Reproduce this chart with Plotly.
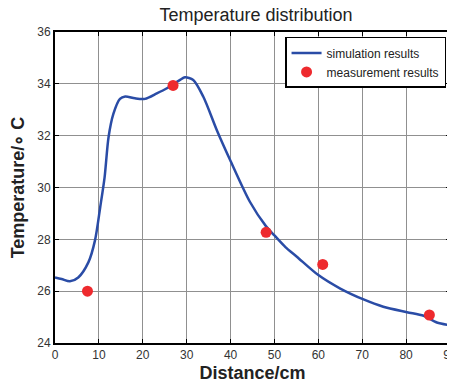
import plotly.graph_objects as go

sim_x = [0, 1.5, 3.4, 5.3, 7.6, 9.1, 10.3, 11.3, 12.2, 13.3, 14.8, 16.0, 18.2, 20.5,
         23.2, 25.5, 28.5, 29.6, 31.5, 33.8, 36.9, 39.9, 44.4, 48.1, 50, 52.5, 55.1, 60,
         65, 70.3, 74.8, 80.2, 84, 87, 90]
sim_y = [26.53, 26.47, 26.38, 26.53, 27.11, 27.95, 29.24, 30.39, 31.94, 32.84, 33.42,
         33.51, 33.44, 33.42, 33.63, 33.83, 34.15, 34.25, 34.15, 33.5, 32.2, 31.06,
         29.45, 28.5, 28.15, 27.7, 27.33, 26.62, 26.1, 25.68, 25.4, 25.19, 25.05, 24.79, 24.69]

meas_x = [7.4, 26.9, 48.1, 61.0, 85.3]
meas_y = [26.0, 33.94, 28.27, 27.03, 25.08]

x_ticks = [0, 10, 20, 30, 40, 50, 60, 70, 80, 90]
y_ticks = [24, 26, 28, 30, 32, 34, 36]

fig = go.Figure()
fig.add_trace(go.Scatter(
    x=sim_x, y=sim_y, mode="lines", name="simulation results",
    line=dict(color="#2a4ca6", width=2.5, shape="spline", smoothing=0.8),
))
fig.add_trace(go.Scatter(
    x=meas_x, y=meas_y, mode="markers", name="measurement results",
    marker=dict(color="#ee2a2e", size=11, line=dict(width=0)),
))

axis_common = dict(
    showgrid=True, gridcolor="#909090", gridwidth=1,
    showline=True, linecolor="black", linewidth=2, mirror="ticks",
    ticks="inside", ticklen=4, tickcolor="black", tickwidth=1,
    zeroline=False, automargin=False, ticklabeloverflow="allow",
    tickfont=dict(family="Liberation Sans, Arial", size=12, color="#333333"),
)

# the page body adds an 8px offset at top-left; figure is sized to fit the window
fig.update_layout(
    width=447, height=376,
    margin=dict(l=47, r=5, t=24, b=41),
    paper_bgcolor="white", plot_bgcolor="white",
    title=dict(text="Temperature distribution", x=0.555, xanchor="center",
               y=1.0, yanchor="top", yref="container",
               font=dict(family="Liberation Sans, Arial", size=18, color="#222222")),
    xaxis=dict(range=[0, 90], tickvals=x_ticks, **axis_common,
               title=dict(text="<b>Distance/cm</b>", standoff=5,
                          font=dict(family="Liberation Sans, Arial", size=18, color="#222222"))),
    yaxis=dict(range=[24, 36], tickvals=y_ticks, **axis_common,
               title=dict(text="<b>Temperature/∘ C</b>", standoff=12,
                          font=dict(family="Liberation Sans, Arial", size=18, color="#222222"))),
    legend=dict(x=0.99, xanchor="right", y=0.984, yanchor="top",
                bgcolor="white", bordercolor="black", borderwidth=1.5,
                font=dict(family="Liberation Sans, Arial", size=12, color="#222222"),
                tracegroupgap=0),
    showlegend=True,
)

fig.write_html("out.html")
